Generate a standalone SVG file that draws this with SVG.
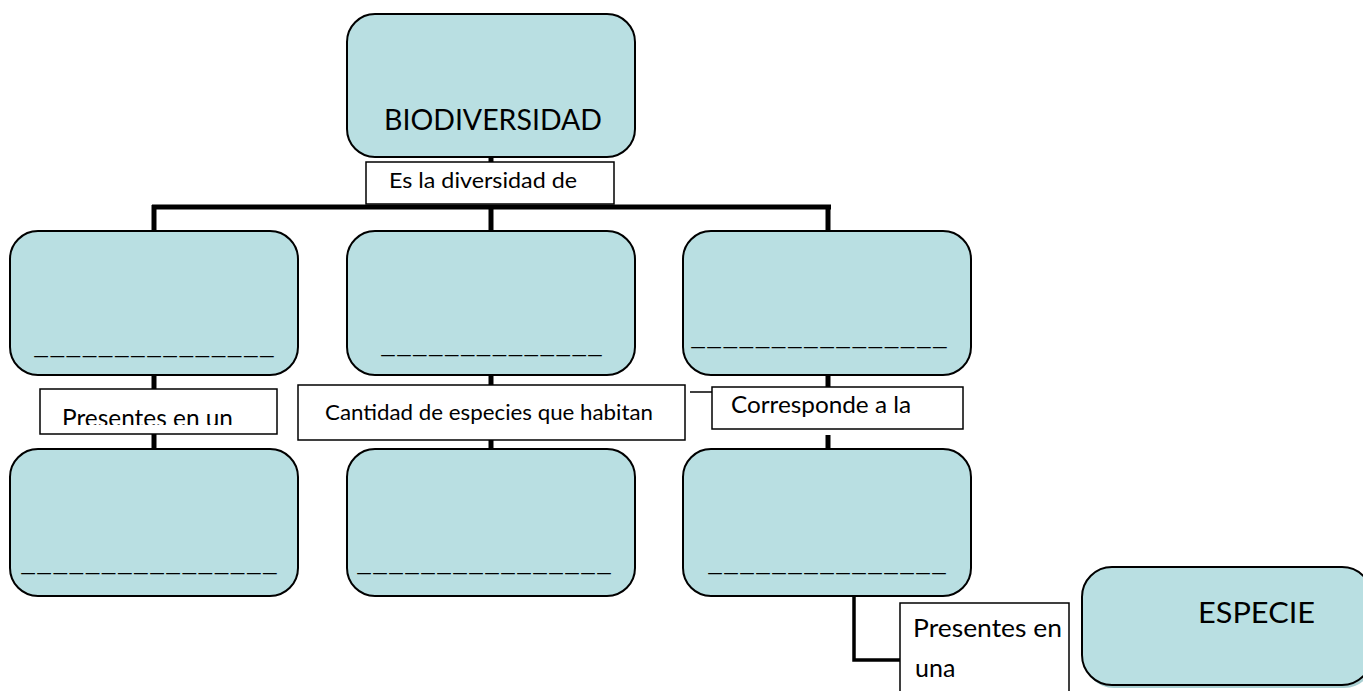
<svg xmlns="http://www.w3.org/2000/svg" width="1363" height="691" viewBox="0 0 1363 691">
<style>
.node{fill:#b9dfe2;stroke:#000;stroke-width:2}
.lbl{fill:#fff;stroke:#000;stroke-width:1.5}
.t{font-family:Lato,"Liberation Sans",sans-serif;fill:#000}
.u{font-family:Lato,"Liberation Sans",sans-serif;font-size:20px;fill:#000}
.c{stroke:#000;fill:none}
</style>
<rect width="1363" height="691" fill="#fff"/>
<g id="connectors">
<line class="c" x1="491" y1="157" x2="491" y2="163" stroke-width="5"/>
<line class="c" x1="152" y1="207" x2="831" y2="207" stroke-width="5"/>
<line class="c" x1="154" y1="205" x2="154" y2="231" stroke-width="5"/>
<line class="c" x1="491" y1="205" x2="491" y2="231" stroke-width="5"/>
<line class="c" x1="828" y1="205" x2="828" y2="231" stroke-width="5"/>
<line class="c" x1="154" y1="375" x2="154" y2="450" stroke-width="5"/>
<line class="c" x1="491" y1="375" x2="491" y2="450" stroke-width="5"/>
<line class="c" x1="828" y1="375" x2="828" y2="388" stroke-width="5"/>
<line class="c" x1="828" y1="435" x2="828" y2="450" stroke-width="5"/>
<polyline class="c" points="854,596 854,660 901,660" stroke-width="3.5"/>
<line class="c" x1="690" y1="392" x2="740" y2="392" stroke-width="1.5"/>
</g>
<g id="biodiversidad">
<rect class="node" x="347" y="14" width="288" height="143" rx="28"/>
<text class="t" x="384" y="130" font-size="28" textLength="218" lengthAdjust="spacingAndGlyphs">BIODIVERSIDAD</text>
</g>
<g id="lbl-es">
<rect class="lbl" x="366" y="162" width="248" height="42"/>
<text class="t" x="389" y="188" font-size="22" textLength="188" lengthAdjust="spacingAndGlyphs">Es la diversidad de</text>
</g>
<g id="n1">
<rect class="node" x="10" y="231" width="288" height="144" rx="28"/>
<text class="u" x="33" y="354" textLength="242" lengthAdjust="spacingAndGlyphs">_______________</text>
</g>
<g id="n2">
<rect class="node" x="347" y="231" width="288" height="144" rx="28"/>
<text class="u" x="380" y="353" textLength="223" lengthAdjust="spacingAndGlyphs">______________</text>
</g>
<g id="n3">
<rect class="node" x="683" y="231" width="288" height="144" rx="28"/>
<text class="u" x="690" y="345" textLength="258" lengthAdjust="spacingAndGlyphs">________________</text>
</g>
<g id="lbl-presentes-un">
<rect class="lbl" x="40" y="389" width="237" height="45"/>
<svg x="40" y="389" width="237" height="36" overflow="hidden">
<text class="t" x="22" y="38" font-size="25" textLength="171" lengthAdjust="spacingAndGlyphs">Presentes en un</text>
</svg>
</g>
<g id="lbl-cantidad">
<rect class="lbl" x="298" y="385" width="387" height="55"/>
<text class="t" x="325" y="420" font-size="22" textLength="328" lengthAdjust="spacingAndGlyphs">Cantidad de especies que habitan</text>
</g>
<g id="lbl-corresponde">
<rect class="lbl" x="712" y="387" width="251" height="42"/>
<text class="t" x="731" y="413" font-size="23" textLength="180" lengthAdjust="spacingAndGlyphs">Corresponde a la</text>
</g>
<g id="n4">
<rect class="node" x="10" y="449" width="288" height="147" rx="28"/>
<text class="u" x="20" y="571" textLength="258" lengthAdjust="spacingAndGlyphs">________________</text>
</g>
<g id="n5">
<rect class="node" x="347" y="449" width="288" height="147" rx="28"/>
<text class="u" x="356" y="571" textLength="256" lengthAdjust="spacingAndGlyphs">________________</text>
</g>
<g id="n6">
<rect class="node" x="683" y="449" width="288" height="147" rx="28"/>
<text class="u" x="707" y="571" textLength="240" lengthAdjust="spacingAndGlyphs">_______________</text>
</g>
<g id="lbl-presentes-una">
<rect class="lbl" x="900" y="603" width="169" height="95"/>
<text class="t" x="913" y="637" font-size="25" textLength="149" lengthAdjust="spacingAndGlyphs">Presentes en</text>
<text class="t" x="915" y="677" font-size="25">una</text>
</g>
<g id="especie">
<rect x="1084" y="570" width="290" height="118" rx="30" fill="#a9cfd2"/>
<rect class="node" x="1082" y="567" width="290" height="118" rx="30"/>
<text class="t" x="1198" y="623" font-size="29" textLength="117" lengthAdjust="spacingAndGlyphs">ESPECIE</text>
</g>
</svg>
